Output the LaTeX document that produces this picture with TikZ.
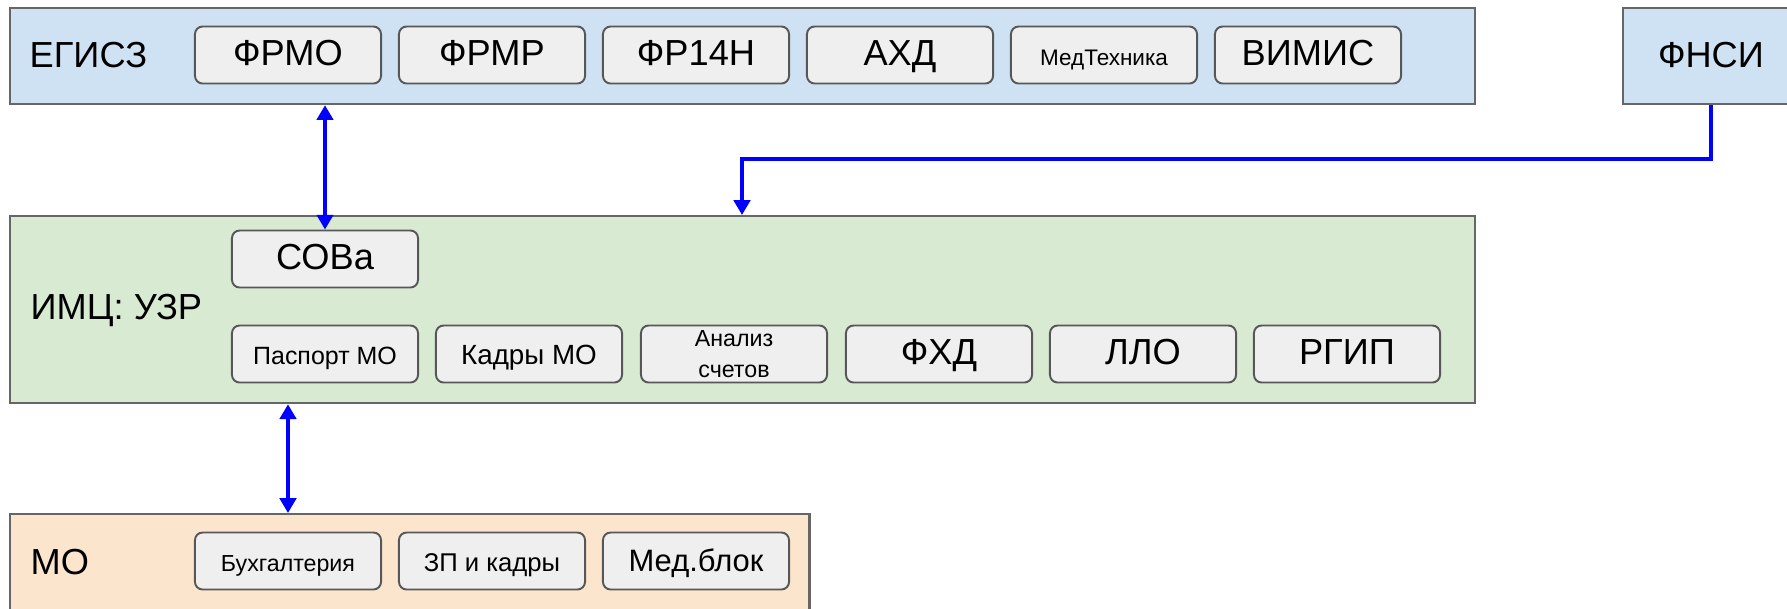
\documentclass[tikz,border=0pt]{standalone}
\usepackage{fontspec}
\setmainfont{Liberation Sans}
\usepackage{xcolor}
\usepackage{tikz}
\usetikzlibrary{arrows.meta}
\usetikzlibrary{positioning}

\definecolor{azul}{HTML}{CFE2F3}
\definecolor{verde}{HTML}{D9EAD3}
\definecolor{naranja}{HTML}{FCE5CD}
\definecolor{gris}{HTML}{EFEFEF}
\definecolor{borde}{HTML}{666666}
\definecolor{flechaazul}{HTML}{0000FF}

\begin{document}
\begin{tikzpicture}[x=0.01cm, y=-0.01cm,
    contenedor/.style={draw=borde, line width=0.6pt, anchor=north west, inner sep=0pt},
    modulo/.style={draw=borde!85!black, fill=gris, rounded corners=2.2pt, line width=0.55pt,
        minimum width=1.86cm, minimum height=0.57cm, inner sep=1pt, align=center,
        text height=0.716em, text depth=0.1em,
        font=\fontsize{10.3}{12}\selectfont},
    titulo/.style={anchor=west, inner sep=0pt, font=\fontsize{10.3}{12}\selectfont},
    flecha/.style={draw=flechaazul, line width=1.05pt, -{Triangle[length=4.2pt, width=4.6pt]}},
    dobleflecha/.style={flecha, {Triangle[length=4.2pt, width=4.6pt]}-{Triangle[length=4.2pt, width=4.6pt]}}]

        \useasboundingbox (0,0) rectangle (1787,608);

        % Contenedores
        \node[contenedor, fill=azul, minimum width=14.64cm, minimum height=0.96cm] (egisz) at (9,7) {};
        \node[contenedor, fill=azul, minimum width=1.90cm, minimum height=0.96cm] (fnsibox) at (1622,7) {};
        \node[contenedor, fill=verde, minimum width=14.64cm, minimum height=1.87cm] (imc) at (9,215) {};
        \node[contenedor, fill=naranja, minimum width=7.99cm, minimum height=1.40cm] (mo) at (9,513) {};

        % Titulos
        \node[titulo] (egiszlbl) at (29,55) {ЕГИСЗ};
        \node[titulo, anchor=center] (fnsi) at (1711,55) {ФНСИ};
        \node[titulo] (imclbl) at (30,310) {ИМЦ: УЗР};
        \node[titulo] (molbl) at (30,562) {МО};

        % Nodos ЕГИСЗ
        \node[modulo] (frmo) at (288,55) {ФРМО};
        \node[modulo] (frmr) at (492,55) {ФРМР};
        \node[modulo] (fr14n) at (696,55) {ФР14Н};
        \node[modulo] (ahd) at (900,55) {АХД};
        \node[modulo, font=\fontsize{6.4}{7.5}\selectfont] (medteh) at (1104,55) {МедТехника};
        \node[modulo] (vimis) at (1308,55) {ВИМИС};

        % Nodos ИМЦ
        \node[modulo] (sova) at (325,259) {СОВа};
        \node[modulo, font=\fontsize{7.1}{8.5}\selectfont] (pasport) at (325,354) {Паспорт МО};
        \node[modulo, font=\fontsize{7.9}{9.5}\selectfont] (kadry) at (529,354) {Кадры МО};
        \node[modulo, text height=, text depth=, font=\fontsize{6.6}{8.6}\selectfont] (analiz) at (734,354) {Анализ\\счетов};
        \node[modulo] (fhd) at (939,354) {ФХД};
        \node[modulo] (llo) at (1143,354) {ЛЛО};
        \node[modulo] (rgip) at (1347,354) {РГИП};

        % Nodos МО
        \node[modulo, font=\fontsize{6.6}{8}\selectfont] (buh) at (288,561) {Бухгалтерия};
        \node[modulo, font=\fontsize{7.3}{8.5}\selectfont] (zp) at (492,561) {ЗП и кадры};
        \node[modulo, font=\fontsize{8.8}{10}\selectfont] (medblok) at (696,561) {Мед.блок};

        % Aristas
        \coordinate (codo) at (742,159);
        \draw[dobleflecha] (egisz.south -| sova.north) -- (sova.north);
        \draw[flecha] (fnsibox.south -| fnsi) |- (codo) -- (imc.north -| codo);
        \draw[dobleflecha] (imc.south -| buh) -- (mo.north -| buh);

    \end{tikzpicture}
\end{document}
